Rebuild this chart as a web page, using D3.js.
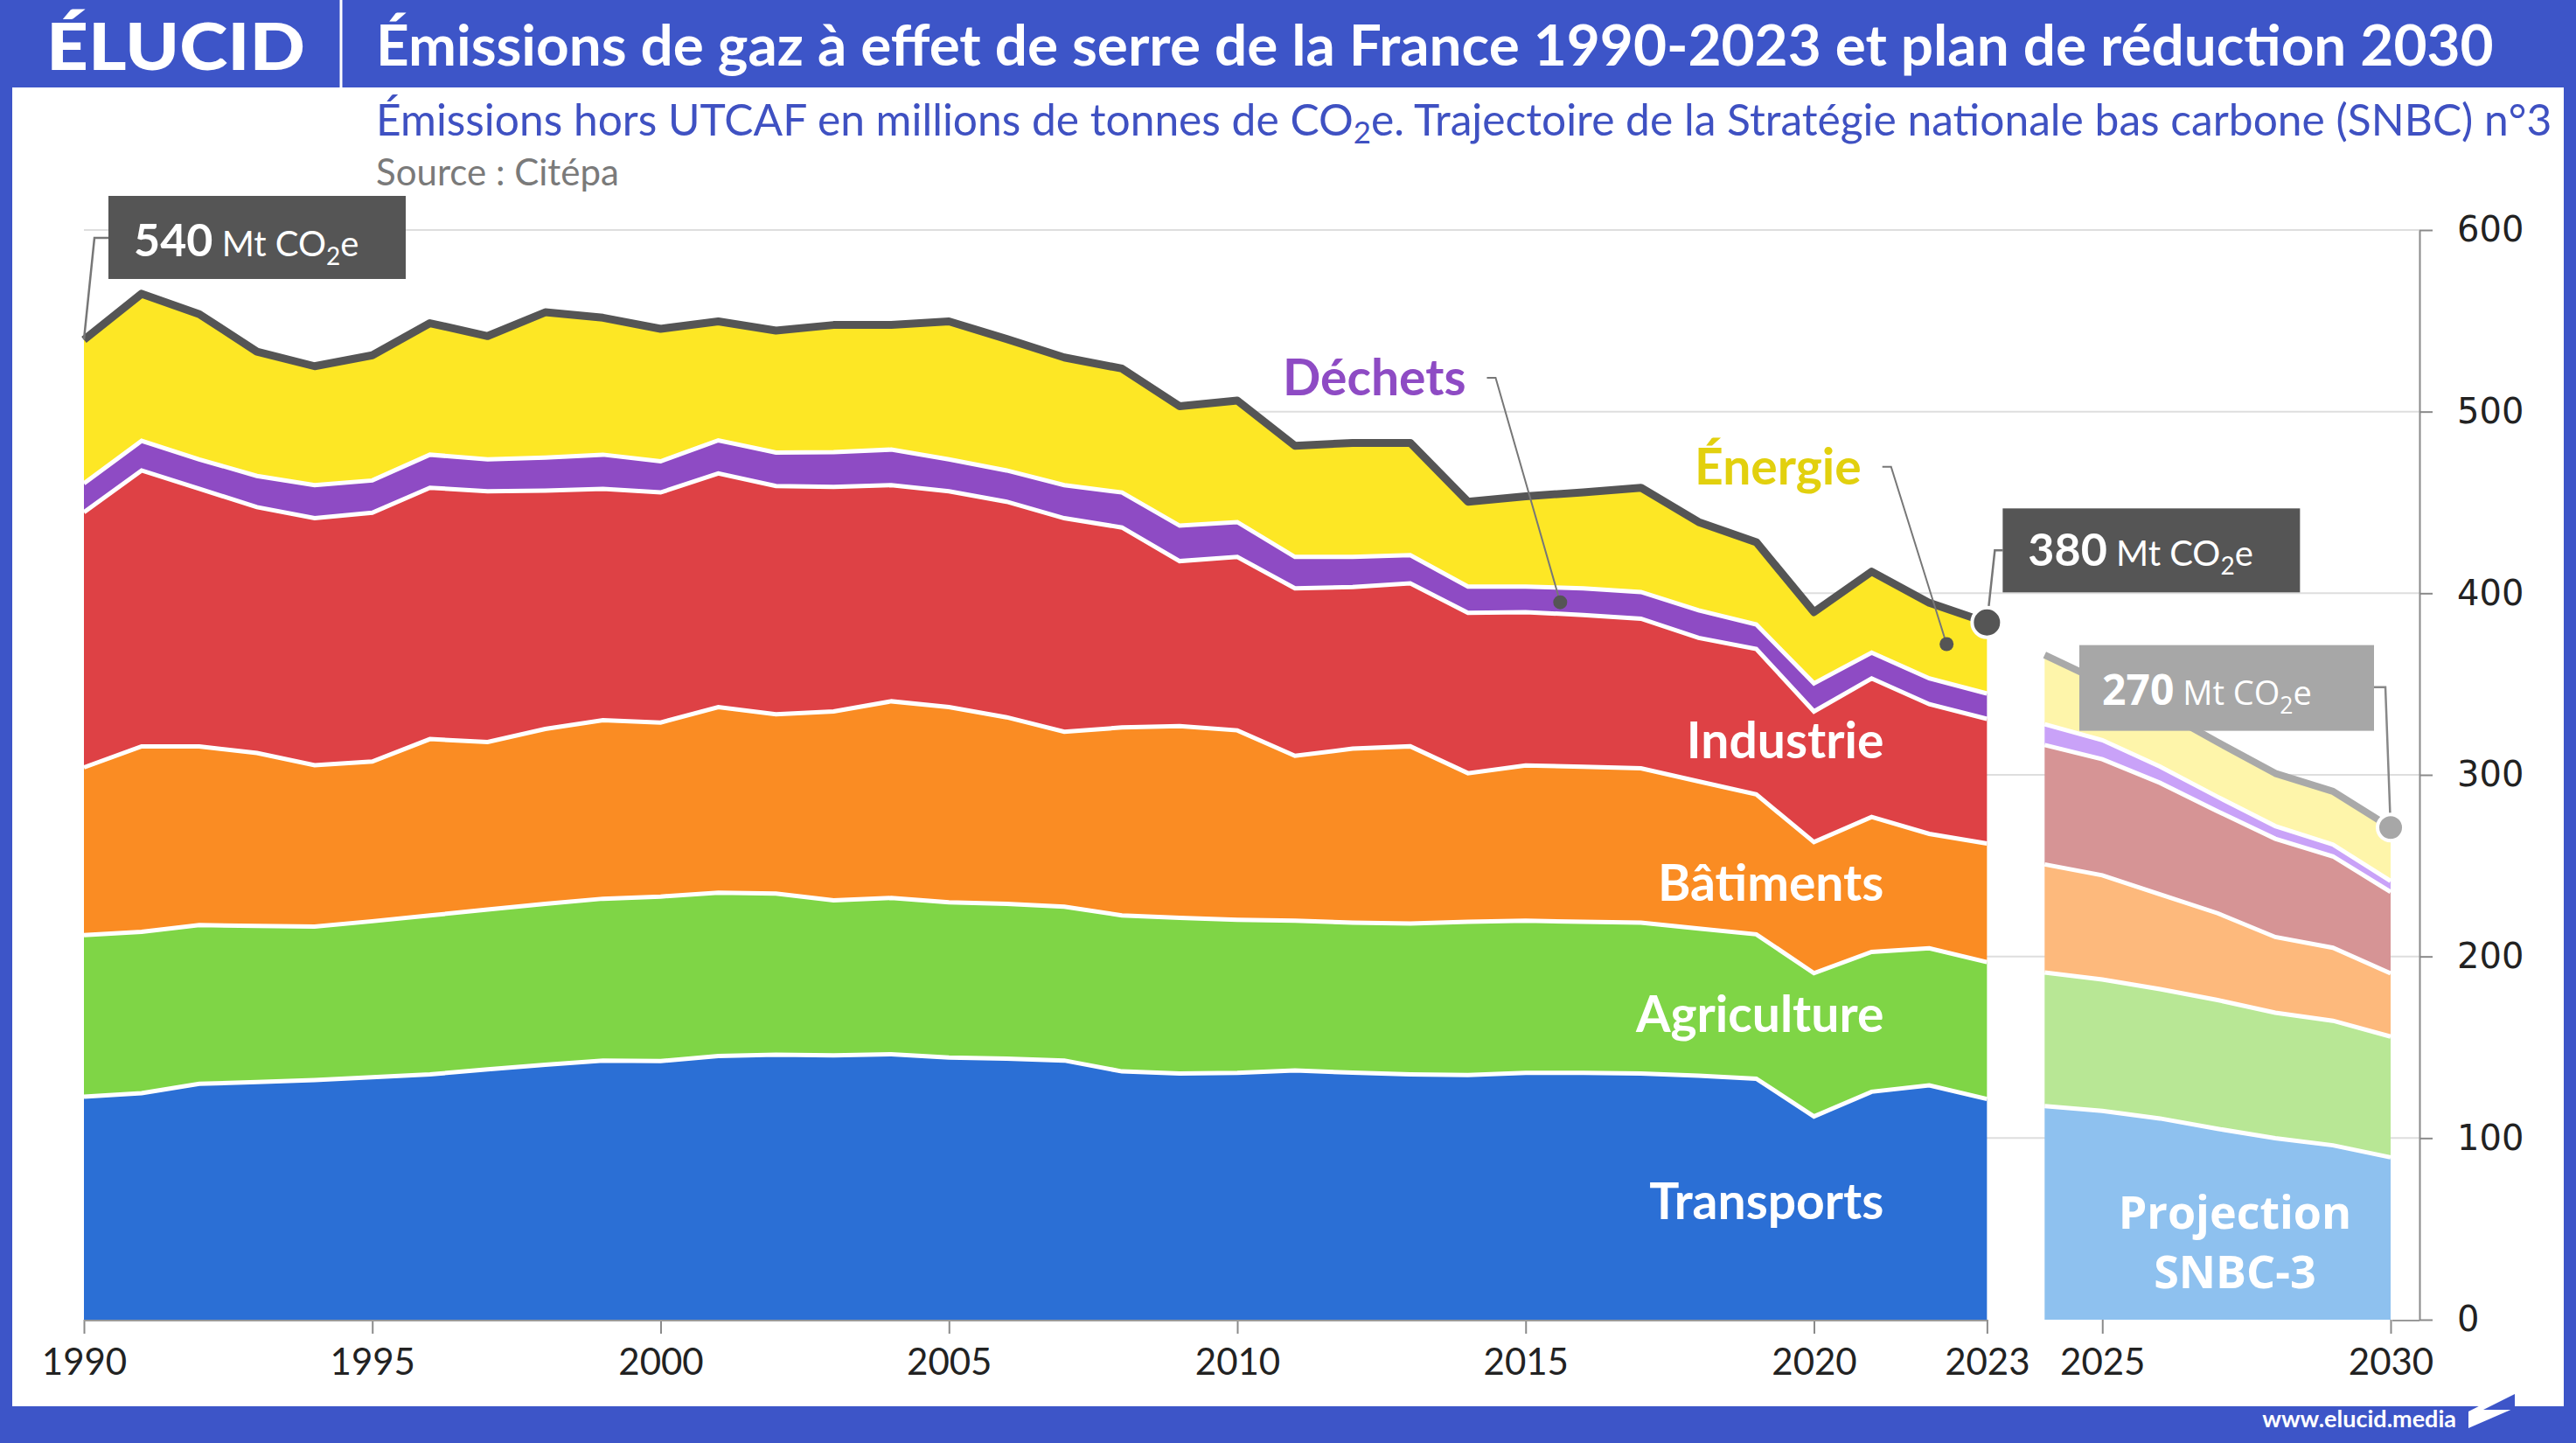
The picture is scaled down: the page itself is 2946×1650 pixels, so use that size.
<!DOCTYPE html>
<html>
<head>
<meta charset="utf-8">
<title>Émissions de gaz à effet de serre de la France 1990-2023</title>
<script src="https://cdn.jsdelivr.net/npm/d3@7"></script>
<style>
  body { margin: 0; background: #fff; }
  svg { display: block; }
</style>
</head>
<body>
<div id="chart"></div>
<script>
// inventaire Citépa, Mt CO2e hors UTCAF
const years = [1990,1991,1992,1993,1994,1995,1996,1997,1998,1999,2000,2001,2002,2003,2004,2005,2006,
               2007,2008,2009,2010,2011,2012,2013,2014,2015,2016,2017,2018,2019,2020,2021,2022,2023];
const transports  = [122.8,124.7,129.9,130.8,131.9,133.5,135.1,137.8,140.4,142.7,142.4,145.2,145.9,145.6,146.2,144.3,143.7,
                     142.7,136.7,135.5,135.9,137.2,136.0,135.1,134.7,135.9,135.9,135.6,134.3,132.7,111.9,125.5,129.0,121.5];
const agriculture = [88.9,88.9,87.4,86.0,84.6,85.9,87.5,88.0,88.6,89.1,90.6,89.9,88.7,85.3,86.0,85.5,85.3,
                     84.7,85.9,85.8,84.3,82.5,82.6,83.0,84.4,83.8,83.2,83.0,81.1,79.5,78.9,77.0,75.5,75.4];
const batiments   = [92.4,102.1,98.4,95.2,88.8,87.9,97.1,92.3,96.3,98.3,95.8,102.2,98.7,104.0,108.3,107.5,102.7,
                     96.3,103.5,105.6,104.3,90.8,95.8,97.6,81.8,85.5,85.3,85.0,81.0,77.0,72.2,74.3,63.0,65.3];
const industrie   = [140.5,151.9,141.8,135.4,136.0,137.0,138.4,138.0,131.2,127.4,126.7,128.7,125.7,123.6,119.0,118.8,118.7,
                     117.6,110.1,90.8,95.5,92.2,89.0,89.7,88.3,84.4,83.6,82.4,79.0,80.1,71.9,76.3,71.4,68.6];
const dechets     = [15.9,16.3,16.2,17.2,18.2,17.8,18.2,17.6,18.2,18.8,17.1,18.2,18.5,19.2,19.6,17.6,17.2,
                     18.2,19.3,19.5,19.2,17.3,16.6,15.6,14.5,14.1,14.7,14.7,15.2,13.5,15.5,14.2,14.2,14.0];
const energie     = [79.1,81.0,80.0,68.4,65.5,68.9,72.4,67.9,80.0,75.4,73.0,65.5,67.1,70.0,68.6,76.0,72.4,
                     70.3,68.2,65.8,66.9,61.2,62.8,61.8,46.7,49.7,52.8,57.4,48.6,45.3,39.2,44.6,41.6,39.1];

// trajectoire SNBC-3
const projYears       = [2024,2025,2026,2027,2028,2029,2030];
const projTransports  = [117.6,115.0,110.8,105.1,99.9,96.0,89.4];
const projAgriculture = [73.6,72.3,71.2,70.9,69.1,68.6,66.5];
const projBatiments   = [59.5,57.4,52.2,47.8,41.7,40.2,34.8];
const projIndustrie   = [65.7,63.9,61.4,56.1,54.1,50.3,44.8];
const projDechets     = [11.5,10.5,9.0,8.0,7.0,6.5,6.0];
const projEnergie     = [38.1,31.9,31.1,30.1,29.0,29.3,29.5];

const sectors = ["Transports","Agriculture","Bâtiments","Industrie","Déchets","Énergie"];
const xTicks = [1990,1995,2000,2005,2010,2015,2020,2023,2025,2030];
const yTicks = [0,100,200,300,400,500,600];

const histColors = ["#2B6FD5","#7FD546","#FA8C23","#DE4145","#8E4BC4","#FDE725"];
const projColors = ["#8EC1EF","#B8E795","#FDB97C","#D69495","#C9A2F8","#FEF5AA"];
const blue = "#3D55C8";

const W = 2946, H = 1650;

const svg = d3.select("#chart").append("svg")
    .attr("width", W)
    .attr("height", H)
    .style("font-family", "Lato, 'Open Sans', sans-serif");

// cadre
svg.append("rect").attr("width", W).attr("height", H).attr("fill", blue);
svg.append("rect").attr("x", 14).attr("y", 100).attr("width", W - 28).attr("height", 1508).attr("fill", "#fff");

const x = d3.scaleLinear().domain([1990, 2030]).range([96, 2734]);
const y = d3.scaleLinear().domain([0, 600]).range([1509, 263]);
const axisX = x(2030) + 33;

// fit a text node to a given width by scaling its font size
function fit(sel, w) {
  const len = sel.node().getComputedTextLength();
  const fs = parseFloat(sel.attr("font-size"));
  sel.attr("font-size", fs * w / len);
}

// header
svg.append("text")
    .attr("x", 53).attr("y", 80)
    .attr("font-size", 74).attr("font-weight", 900)
    .attr("textLength", 296).attr("lengthAdjust", "spacingAndGlyphs")
    .attr("fill", "#fff")
    .text("ÉLUCID");

svg.append("line")
    .attr("x1", 390).attr("x2", 390).attr("y1", 0).attr("y2", 100)
    .attr("stroke", "#fff").attr("stroke-width", 3);

const title = svg.append("text")
    .attr("x", 430).attr("y", 75)
    .attr("font-size", 60).attr("font-weight", 700)
    .attr("fill", "#fff")
    .text("Émissions de gaz à effet de serre de la France 1990-2023 et plan de réduction 2030");
fit(title, 2422);

const sub = svg.append("text")
    .attr("x", 430).attr("y", 155)
    .attr("font-size", 42)
    .attr("fill", "#3F51C2");
sub.append("tspan").text("Émissions hors UTCAF en millions de tonnes de CO");
sub.append("tspan").attr("font-size", "0.7em").attr("dy", 9).text("2");
sub.append("tspan").attr("dy", -9).text("e. Trajectoire de la Stratégie nationale bas carbone (SNBC) n°3");
fit(sub, 2489);

svg.append("text")
    .attr("x", 430).attr("y", 212)
    .attr("font-size", 42)
    .attr("fill", "#7a7a7a")
    .text("Source : Citépa");

// grille
svg.append("g").selectAll("line")
  .data(yTicks.filter(d => d > 0))
  .join("line")
    .attr("x1", x(1990)).attr("x2", axisX)
    .attr("y1", d => y(d)).attr("y2", d => y(d))
    .attr("stroke", "#dedede").attr("stroke-width", 2);

// stacks
function rows(yrs, cols) {
  return yrs.map((yr, i) => {
    const r = { year: yr };
    sectors.forEach((k, j) => r[k] = cols[j][i]);
    return r;
  });
}
const stack = d3.stack().keys(sectors);
const histSeries = stack(rows(years, [transports, agriculture, batiments, industrie, dechets, energie]));
const projSeries = stack(rows(projYears, [projTransports, projAgriculture, projBatiments, projIndustrie, projDechets, projEnergie]));

const area = d3.area()
    .x(d => x(d.data.year))
    .y0(d => y(d[0]))
    .y1(d => y(d[1]));
const topOf = d3.line()
    .x(d => x(d.data.year))
    .y(d => y(d[1]));

function drawStack(series, colors, lineColor, lineWidth) {
  const g = svg.append("g");
  g.selectAll("path.area")
    .data(series)
    .join("path")
      .attr("class", "area")
      .attr("d", area)
      .attr("fill", (d, i) => colors[i]);
  g.selectAll("path.sep")
    .data(series.slice(0, -1))
    .join("path")
      .attr("class", "sep")
      .attr("d", topOf)
      .attr("fill", "none")
      .attr("stroke", "#fff")
      .attr("stroke-width", 5);
  g.append("path")
    .datum(series[series.length - 1])
    .attr("d", topOf)
    .attr("fill", "none")
    .attr("stroke", lineColor)
    .attr("stroke-width", lineWidth)
    .attr("stroke-linejoin", "round");
}
drawStack(histSeries, histColors, "#555555", 9);
drawStack(projSeries, projColors, "#A9A9A9", 8);

// axes
const xAxis = svg.append("g")
    .attr("transform", `translate(0,${y(0)})`)
    .call(d3.axisBottom(x).tickValues(xTicks).tickFormat(d3.format("d"))
      .tickSize(16).tickPadding(17).tickSizeOuter(0));
xAxis.select(".domain").remove();
xAxis.selectAll("line").attr("stroke", "#8a8a8a").attr("stroke-width", 2);
xAxis.selectAll("text").attr("font-family", "Lato").attr("font-size", 42).attr("fill", "#222");

svg.append("line")
    .attr("x1", x(1990)).attr("x2", x(2023))
    .attr("y1", y(0) + 1).attr("y2", y(0) + 1)
    .attr("stroke", "#9a9a9a").attr("stroke-width", 2);
svg.append("line")
    .attr("x1", x(2030) + 2).attr("x2", axisX)
    .attr("y1", y(0) + 1).attr("y2", y(0) + 1)
    .attr("stroke", "#9a9a9a").attr("stroke-width", 2);

const yAxis = svg.append("g")
    .attr("transform", `translate(${axisX},0)`)
    .call(d3.axisRight(y).tickValues(yTicks).tickSize(15).tickPadding(28).tickSizeOuter(0));
yAxis.select(".domain").attr("stroke", "#8a8a8a").attr("stroke-width", 2);
yAxis.selectAll("line").attr("stroke", "#8a8a8a").attr("stroke-width", 2);
yAxis.selectAll("text").attr("font-family", "'DejaVu Sans'").attr("font-size", 40).attr("fill", "#222");

// étiquettes des secteurs
const inner = [
  { text: "Industrie",   v: 309 },
  { text: "Bâtiments",   v: 230.6 },
  { text: "Agriculture", v: 158.4 },
  { text: "Transports",  v: 55.4 }
];
svg.append("g").selectAll("text")
  .data(inner)
  .join("text")
    .attr("x", x(2023) - 118)
    .attr("y", d => y(d.v))
    .attr("text-anchor", "end")
    .attr("font-size", 57).attr("font-weight", 700)
    .attr("fill", "#fff")
    .text(d => d.text);

function pointer(label, color, tx, tyVal, year, val) {
  const t = svg.append("text")
      .attr("x", tx).attr("y", y(tyVal))
      .attr("font-size", 57).attr("font-weight", 700)
      .attr("fill", color)
      .text(label);
  const bb = t.node().getBBox();
  const sx = bb.x + bb.width + 24, sy = y(tyVal) - 20;
  svg.append("path")
      .attr("d", `M${sx},${sy}H${sx + 10}L${x(year)},${y(val)}`)
      .attr("fill", "none").attr("stroke", "#777").attr("stroke-width", 2);
  svg.append("circle")
      .attr("cx", x(year)).attr("cy", y(val)).attr("r", 8)
      .attr("fill", "#555");
}
pointer("Déchets", "#8E4BC4", 1467, 509, 2015.6, 395);
pointer("Énergie", "#E2D00E", 1938, 460, 2022.3, 372);

svg.append("text")
    .attr("x", x(2027.3)).attr("y", y(50.3))
    .attr("text-anchor", "middle")
    .attr("font-family", "'Open Sans'")
    .attr("font-size", 52).attr("font-weight", 700)
    .attr("fill", "#fff")
    .call(t => {
      t.append("tspan").attr("x", x(2027.3)).text("Projection");
      t.append("tspan").attr("x", x(2027.3)).attr("dy", 68).text("SNBC-3");
    });

// encadrés des totaux
function callout(o) {
  const g = svg.append("g");
  g.append("path")
      .attr("d", o.path)
      .attr("fill", "none").attr("stroke", o.lineColor).attr("stroke-width", 2.5);
  if (o.dot) {
    g.append("circle")
        .attr("cx", o.px).attr("cy", o.py).attr("r", o.dot)
        .attr("fill", o.fill).attr("stroke", "#fff").attr("stroke-width", 4);
  }
  g.append("rect")
      .attr("x", o.bx).attr("y", o.by).attr("width", o.bw).attr("height", o.bh)
      .attr("fill", o.fill);
  const t = g.append("text")
      .attr("x", o.bx + o.tx).attr("y", o.by + o.ty)
      .attr("font-family", o.font)
      .attr("fill", "#fff");
  t.append("tspan").attr("font-size", o.big).attr("font-weight", 700).text(o.value);
  t.append("tspan").attr("font-size", o.small).text(" Mt CO");
  t.append("tspan").attr("font-size", o.small * 0.7).attr("dy", 10).text("2");
  t.append("tspan").attr("font-size", o.small).attr("dy", -10).text("e");
}

const tot = histSeries[histSeries.length - 1];
const ptot = projSeries[projSeries.length - 1];
const first = tot[0], last = tot[tot.length - 1], pend = ptot[ptot.length - 1];

callout({
  value: "540", fill: "#555555", lineColor: "#777",
  bx: x(1990) + 28, by: y(600) - 39, bw: 340, bh: 95, tx: 29, ty: 69,
  font: "Lato", big: 52, small: 40,
  path: `M${x(1990) + 28},${y(600) + 9}H${x(1990) + 12}L${x(1990)},${y(first[1])}`
});
callout({
  value: "380", fill: "#555555", lineColor: "#777",
  bx: x(2023) + 18, by: y(400) - 97, bw: 340, bh: 96, tx: 29, ty: 66,
  font: "Lato", big: 52, small: 40,
  path: `M${x(2023) + 18},${y(400) - 49}H${x(2023) + 9}L${x(2023)},${y(last[1])}`,
  dot: 17, px: x(2023), py: y(last[1])
});
callout({
  value: "270", fill: "#A7A7A7", lineColor: "#888",
  bx: x(2030) - 356, by: y(370) - 3, bw: 337, bh: 98, tx: 26, ty: 68,
  font: "'Open Sans'", big: 48, small: 38,
  path: `M${x(2030) - 19},${y(370) + 45}H${x(2030) - 6}L${x(2030)},${y(pend[1])}`,
  dot: 15, px: x(2030), py: y(pend[1])
});

// pied de page
svg.append("text")
    .attr("x", 2809).attr("y", 1632)
    .attr("text-anchor", "end")
    .attr("font-size", 27).attr("font-weight", 700)
    .attr("fill", "#fff")
    .text("www.elucid.media");
svg.append("path")
    .attr("d", "M2823,1614L2876,1587V1610L2823,1633Z")
    .attr("fill", "#fff");
svg.append("path")
    .attr("d", "M2840,1612L2876,1594V1612Z")
    .attr("fill", blue);
</script>
</body>
</html>
